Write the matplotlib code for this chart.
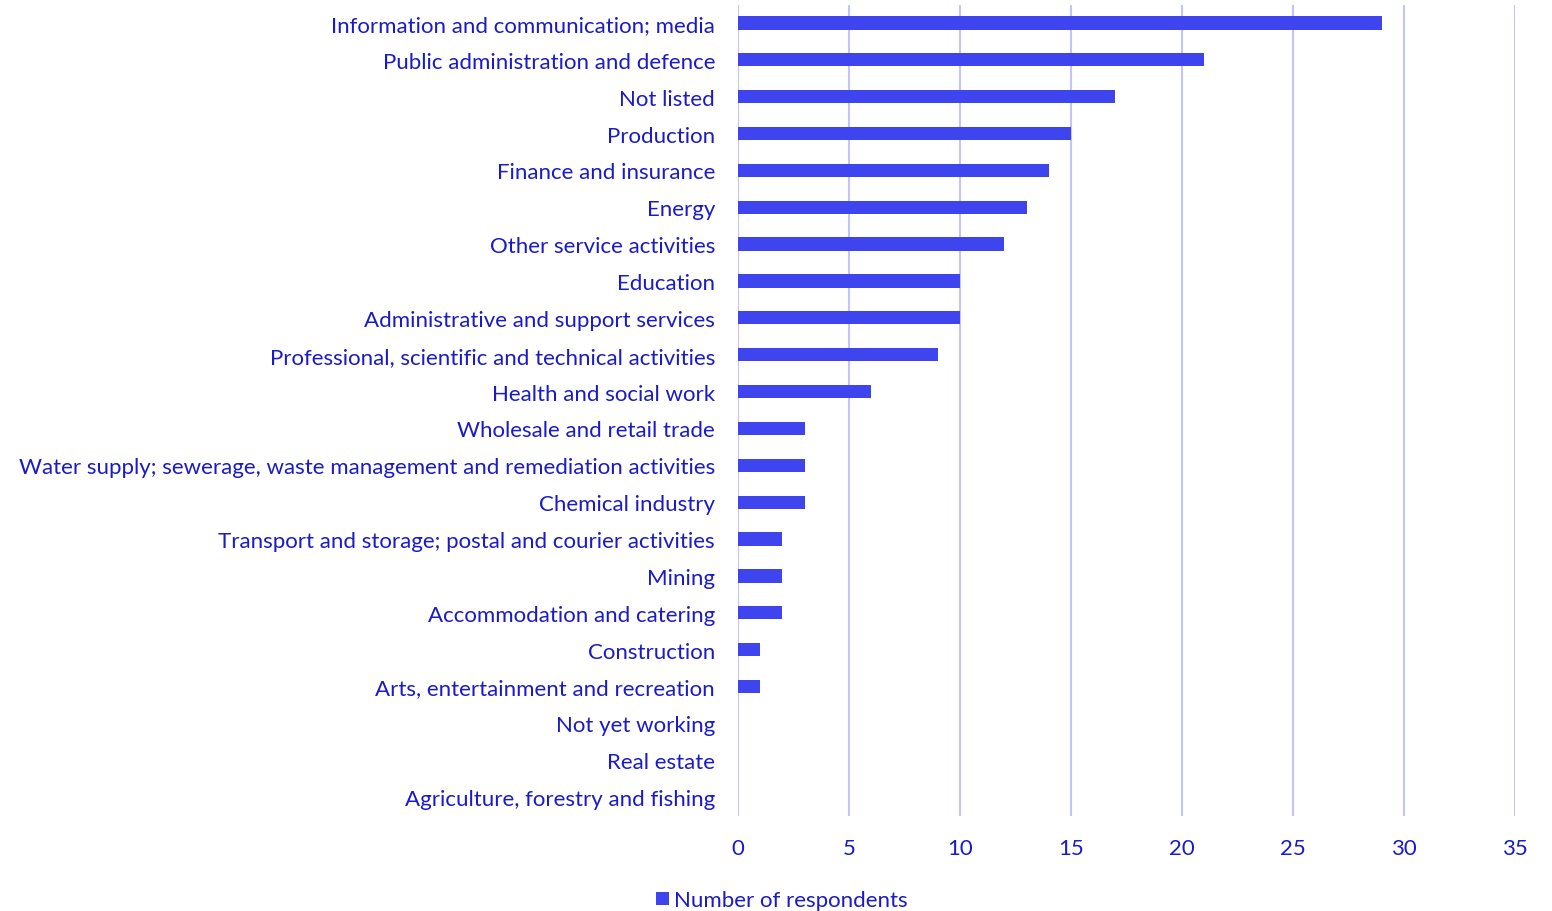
import matplotlib
matplotlib.use("Agg")
import matplotlib.pyplot as plt
from matplotlib.patches import Patch

categories = [
    "Information and communication; media",
    "Public administration and defence",
    "Not listed",
    "Production",
    "Finance and insurance",
    "Energy",
    "Other service activities",
    "Education",
    "Administrative and support services",
    "Professional, scientific and technical activities",
    "Health and social work",
    "Wholesale and retail trade",
    "Water supply; sewerage, waste management and remediation activities",
    "Chemical industry",
    "Transport and storage; postal and courier activities",
    "Mining",
    "Accommodation and catering",
    "Construction",
    "Arts, entertainment and recreation",
    "Not yet working",
    "Real estate",
    "Agriculture, forestry and fishing",
]
values = [29, 21, 17, 15, 14, 13, 12, 10, 10, 9, 6, 3, 3, 3, 2, 2, 2, 1, 1, 0, 0, 0]
xticks = [0, 5, 10, 15, 20, 25, 30, 35]
series_name = "Number of respondents"

bar_color = "#3E44EE"
text_color = "#1A1AC8"
grid_color = "#C4C4F8"

plt.rcParams['font.family'] = ['Lato', 'DejaVu Sans']
fs = 16

W, H = 1552, 912
fig = plt.figure(figsize=(W/100, H/100), dpi=100)
top_px, bot_px = 5.5, 816.5
ax = fig.add_axes([738/W, 1 - bot_px/H, (1515-738)/W, (bot_px-top_px)/H])

y = list(range(len(categories)))
ax.barh(y, values, height=0.36, color=bar_color, zorder=3)
ax.set_ylim(len(categories) - 0.5, -0.5)
ax.set_xlim(0, 35)
ax.set_xticks(xticks)
ax.set_xticklabels([str(t) for t in xticks])
ax.set_yticks(y)
ax.set_yticklabels(categories)
ax.grid(axis='x', color=grid_color, linewidth=1.5, zorder=0)
for s in ax.spines.values():
    s.set_visible(False)
ax.tick_params(axis='both', length=0, colors=text_color, labelsize=fs)
ax.tick_params(axis='y', pad=16.5)
ax.tick_params(axis='x', pad=16.5)

handles = [Patch(facecolor=bar_color, label=series_name)]
fig.legend(handles=handles, loc='center', bbox_to_anchor=(782/W, 1 - 901.5/H),
           frameon=False, fontsize=fs, labelcolor=text_color,
           handlelength=0.55, handleheight=0.55, handletextpad=0.25)

fig.savefig("out.png", dpi=100)
